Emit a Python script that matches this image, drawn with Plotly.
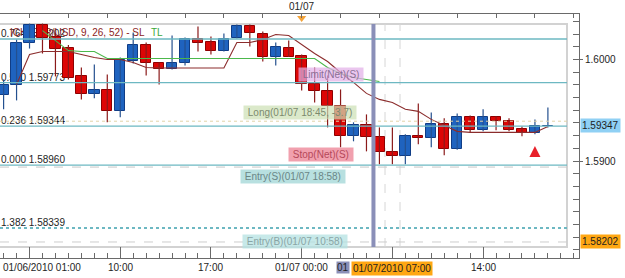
import plotly.graph_objects as go

# ---------------- data ----------------
candle_idx = list(range(43))
opens = [1.59646, 1.59744, 1.60167, 1.60344, 1.60226, 1.60113, 1.59833, 1.59656, 1.59695, 1.59489,
         1.59990, 1.60147, 1.59961, 1.59902, 1.59961, 1.60206, 1.60177, 1.60088, 1.60216, 1.60334,
         1.60256, 1.60020, 1.60118, 1.60034, 1.59754, 1.59685, 1.59538, 1.59243, 1.59351, 1.59233,
         1.59086, 1.59046, 1.59243, 1.59223, 1.59361, 1.59115, 1.59430, 1.59302, 1.59430, 1.59390,
         1.59312, 1.59272, 1.59341]
highs = [1.59803, 1.60197, 1.60354, 1.60354, 1.60265, 1.60143, 1.59921, 1.59951, 1.59853, 1.60020,
         1.60265, 1.60167, 1.59971, 1.60236, 1.60216, 1.60324, 1.60226, 1.60256, 1.60344, 1.60344,
         1.60275, 1.60167, 1.60187, 1.60049, 1.59921, 1.59843, 1.59705, 1.59381, 1.59459, 1.59331,
         1.59331, 1.59263, 1.59567, 1.59479, 1.59420, 1.59469, 1.59449, 1.59509, 1.59440, 1.59420,
         1.59341, 1.59410, 1.59528]
lows = [1.59509, 1.59597, 1.60108, 1.60059, 1.59833, 1.59803, 1.59607, 1.59617, 1.59381, 1.59430,
        1.59961, 1.59843, 1.59754, 1.59902, 1.59941, 1.60079, 1.60049, 1.60079, 1.60206, 1.60128,
        1.59980, 1.59941, 1.60024, 1.59695, 1.59577, 1.59331, 1.59135, 1.59194, 1.59095, 1.58968,
        1.58968, 1.58968, 1.59164, 1.59135, 1.59056, 1.59110, 1.59282, 1.59292, 1.59302, 1.59292,
        1.59243, 1.59263, 1.59331]
closes = [1.59744, 1.60167, 1.60344, 1.60216, 1.60108, 1.59813, 1.59656, 1.59695, 1.59489, 1.60000,
          1.60147, 1.59961, 1.59902, 1.59961, 1.60206, 1.60167, 1.60079, 1.60206, 1.60334, 1.60265,
          1.60020, 1.60123, 1.60029, 1.59754, 1.59685, 1.59538, 1.59243, 1.59351, 1.59233, 1.59086,
          1.59046, 1.59243, 1.59223, 1.59361, 1.59115, 1.59430, 1.59302, 1.59430, 1.59390, 1.59302,
          1.59272, 1.59341, 1.59347]

sl_idx = list(range(1, 43))
sl_vals = [1.59754, 1.60049, 1.60079, 1.60079, 1.60079, 1.60049, 1.60020, 1.60000, 1.60000, 1.59971, 1.59921,
           1.59916, 1.59916, 1.59916, 1.59916, 1.59916, 1.59916,
           1.60167, 1.60167, 1.60197, 1.60246, 1.60236, 1.60147, 1.60059, 1.59980, 1.59872, 1.59774,
           1.59666, 1.59607, 1.59577, 1.59509, 1.59489, 1.59410, 1.59351, 1.59292,
           1.59282, 1.59282, 1.59282, 1.59282, 1.59282, 1.59282, 1.59341]
tl_idx = list(range(3, 30))
tl_vals = [1.60285, 1.60187, 1.60088, 1.60079, 1.60079] + [1.60010] * 17 + \
          [1.59921, 1.59862, 1.59823, 1.59803, 1.59784]

fib_ratios = ["0.764", "0.500", "0.236", "0.000", "1.382"]
fib_prices = [1.60202, 1.59773, 1.59344, 1.58960, 1.58339]

x_tick_idx = [2, 9, 16, 23, 30, 37]
x_tick_text = ["01/06/2010 01:00", "10:00", "17:00", "01/07 00:00", "07:00", "14:00"]
top_tick_idx = list(range(2, 45, 3))
y_tick_vals = [1.5900, 1.6000]
y_tick_text = ["1.5900", "1.6000"]

last_price = 1.59347
line_price = 1.58202
position_price = 1.59392
entry_line_price = 1.58940
cursor_idx = 28.54
cursor_time_idx = 30
cursor_time_text = "01/07/2010 07:00"
dashed_idx = [29.43, 30.59]
day_marker_idx = 23
arrow_idx, arrow_price = 41, 1.59148

orders = [  # text, x (candle index), price, background, text colour
    (" Limit(Net)(S) ", 22.72, 1.59857, "rgba(226,176,232,0.72)", "#8a6f95"),
    (" Long(01/07 18:45, -3.7) ", 18.47, 1.59473, "rgba(205,225,182,0.72)", "#7b8a6e"),
    (" Stop(Net)(S) ", 21.94, 1.59064, "rgba(240,150,165,0.9)", "#b5485a"),
    (" Entry(S)(01/07 18:58) ", 18.24, 1.58847, "rgba(166,216,216,0.8)", "#6a8686"),
    (" Entry(B)(01/07 10:58) ", 18.39, 1.58207, "rgba(180,226,226,0.75)", "#8aa5a5"),
]

# ---------------- geometry helpers ----------------
PW, PT, PB = 579, 14, 258          # plot right edge, top, bottom in px
def xp(px): return px / PW
def yp(py): return (PB - py) / (PB - PT)

XR = [-0.278, 44.40]
YR = [1.580443, 1.604483]
FONT = "Liberation Sans, Arial, sans-serif"

BLUE, BLUE_EDGE, BLUE_WICK = "#1f63bf", "#103d86", "#24508f"
RED, RED_EDGE, RED_WICK = "#dd0606", "#8f0000", "#8b1a1a"

up = [i for i in candle_idx if closes[i] >= opens[i]]
dn = [i for i in candle_idx if closes[i] < opens[i]]

fig = go.Figure()

def wick_trace(ids, color):
    xs, ys = [], []
    for i in ids:
        xs += [i, i, None]
        ys += [lows[i], highs[i], None]
    return go.Scatter(x=xs, y=ys, mode="lines", line=dict(color=color, width=1.2),
                      hoverinfo="skip", showlegend=False)

def body_trace(ids, fill, edge):
    return go.Bar(x=ids, y=[max(abs(closes[i] - opens[i]), 0.00001) for i in ids],
                  base=[min(opens[i], closes[i]) for i in ids], width=0.8,
                  marker=dict(color=fill, line=dict(color=edge, width=1)),
                  hoverinfo="skip", showlegend=False)

fig.add_trace(body_trace(up, BLUE, BLUE_EDGE))
fig.add_trace(body_trace(dn, RED, RED_EDGE))
fig.add_trace(wick_trace(up, BLUE_WICK))
fig.add_trace(wick_trace(dn, RED_WICK))

fig.add_trace(go.Scatter(x=sl_idx, y=sl_vals, mode="lines", line=dict(color="#8b2c2c", width=1.1),
                         hoverinfo="skip", showlegend=False))
fig.add_trace(go.Scatter(x=tl_idx, y=tl_vals, mode="lines", line=dict(color="#4cb84c", width=1.1),
                         hoverinfo="skip", showlegend=False))
fig.add_trace(go.Scatter(x=[arrow_idx], y=[arrow_price], mode="markers",
                         marker=dict(symbol="arrow-up", size=11, color="#e8202a"),
                         hoverinfo="skip", showlegend=False))
fig.add_trace(go.Scatter(x=[day_marker_idx], y=[1.604089], mode="markers", xaxis="x2",
                         marker=dict(symbol="triangle-down", size=8, color="#f3a33a"),
                         cliponaxis=False, hoverinfo="skip", showlegend=False))

shapes = []
# inner frame
shapes.append(dict(type="rect", xref="paper", yref="paper", x0=-0.01, x1=xp(567),
                   y0=yp(247), y1=yp(24), line=dict(color="#d2d2d2", width=2), layer="below"))
# dashed verticals
for d in dashed_idx:
    shapes.append(dict(type="line", xref="x", yref="paper", x0=d, x1=d, y0=yp(247), y1=yp(24),
                       line=dict(color="#d6d6d6", width=1, dash="dash"), layer="below"))
# horizontal order / price levels
shapes.append(dict(type="line", xref="paper", yref="y", x0=0, x1=xp(567), y0=position_price, y1=position_price,
                   line=dict(color="#e2d3a8", width=1, dash="dot")))
shapes.append(dict(type="line", xref="paper", yref="y", x0=0, x1=xp(567), y0=entry_line_price, y1=entry_line_price,
                   line=dict(color="#c8c8c8", width=1, dash="dash"), layer="below"))
shapes.append(dict(type="line", xref="paper", yref="y", x0=0, x1=xp(567), y0=line_price, y1=line_price,
                   line=dict(color="#cdcdcd", width=1, dash="dash"), layer="below"))
# fibonacci levels (lines above, labels below the candles)
for r, p in zip(fib_ratios, fib_prices):
    dash = "dot" if r == "1.382" else "solid"
    w = 2 if r == "1.382" else 1.3
    shapes.append(dict(type="line", xref="paper", yref="y", x0=0, x1=xp(567), y0=p, y1=p,
                       line=dict(color="#6db8c2", width=w, dash=dash)))
    shapes.append(dict(type="line", xref="paper", yref="y", x0=xp(1), x1=xp(200), y0=p, y1=p,
                       line=dict(color="rgba(0,0,0,0)", width=0), layer="below",
                       label=dict(text=f"{r} {p:.5f}", textposition="start", xanchor="left",
                                  yanchor="bottom", padding=1,
                                  font=dict(family=FONT, size=10, color="#1e1e1e"))))
# indicator legend (behind candles)
shapes.append(dict(type="rect", xref="paper", yref="paper", x0=xp(7), x1=xp(145), y0=yp(38), y1=yp(24),
                   line=dict(width=0), fillcolor="rgba(0,0,0,0)", layer="below",
                   label=dict(text="ICH(EUR/USD, 9, 26, 52) - SL", textposition="middle left", padding=0,
                              font=dict(family=FONT, size=10, color="#8b2323"))))
shapes.append(dict(type="rect", xref="paper", yref="paper", x0=xp(148), x1=xp(165), y0=yp(38), y1=yp(24),
                   line=dict(width=0), fillcolor="rgba(0,0,0,0)", layer="below",
                   label=dict(text="TL", textposition="middle left", padding=0,
                              font=dict(family=FONT, size=10, color="#3aa83a"))))
# time cursor
shapes.append(dict(type="line", xref="x", yref="paper", x0=cursor_idx, x1=cursor_idx, y0=yp(247), y1=yp(24),
                   line=dict(color="#8a8fb8", width=4)))

ann = []
for t, x, p, bg, fc in orders:
    ann.append(dict(text=t, x=x, y=p, xref="x", yref="y", xanchor="left", yanchor="middle",
                    showarrow=False, bgcolor=bg, borderpad=1,
                    font=dict(family=FONT, size=10, color=fc)))
# bottom time labels (the one under the cursor label is hidden by it)
for i, (k, t) in enumerate(zip(x_tick_idx, x_tick_text)):
    if k == cursor_time_idx:
        continue
    if i == 0:
        ann.append(dict(text=t, x=0, xref="paper", xanchor="left", xshift=1, y=0, yref="paper",
                        yanchor="top", yshift=-2, showarrow=False,
                        font=dict(family=FONT, size=10, color="#1e1e1e")))
    else:
        ann.append(dict(text=t, x=k, xref="x", xanchor="center", y=0, yref="paper",
                        yanchor="top", yshift=-2, showarrow=False,
                        font=dict(family=FONT, size=10, color="#1e1e1e")))
# cursor labels at bottom
ann.append(dict(text="01", x=xp(350), xref="paper", xanchor="right", y=0, yref="paper", yanchor="top",
                yshift=-3, showarrow=False, bgcolor="#8a8fb8", borderpad=0,
                font=dict(family=FONT, size=10, color="#1e1e1e")))
ann.append(dict(text=cursor_time_text, x=cursor_time_idx, xref="x", xanchor="center", y=0, yref="paper",
                yanchor="top", yshift=-3, showarrow=False, bgcolor="#ffa713", borderpad=1,
                font=dict(family=FONT, size=10, color="#1e1e1e")))
# top day label
ann.append(dict(text="01/07", x=day_marker_idx, xref="x", y=1, yref="paper", yanchor="bottom", yshift=0,
                showarrow=False, font=dict(family=FONT, size=10, color="#1e1e1e")))
# right price boxes
ann.append(dict(text=f"{last_price:.5f}", x=1, xref="paper", xanchor="left", xshift=1, y=last_price, yref="y",
                yanchor="middle", showarrow=False, bgcolor="#8fd0f4", borderpad=1,
                font=dict(family=FONT, size=10, color="#1e1e1e")))
ann.append(dict(text=f"{line_price:.5f}", x=1, xref="paper", xanchor="left", xshift=1, y=line_price, yref="y",
                yanchor="middle", showarrow=False, bgcolor="#ffa713", borderpad=1,
                font=dict(family=FONT, size=10, color="#1e1e1e")))

fig.update_layout(
    width=625, height=278,
    margin=dict(l=0, r=625 - PW, t=PT, b=278 - PB),
    paper_bgcolor="white", plot_bgcolor="white",
    barmode="overlay", bargap=0, hovermode=False,
    font=dict(family=FONT, size=10, color="#1e1e1e"),
    showlegend=False,
    xaxis=dict(range=XR, showgrid=False, zeroline=False, showline=True, linecolor="#6a6a6a", linewidth=1,
               ticks="inside", ticklen=11, tickcolor="#6a6a6a", tickvals=x_tick_idx,
               showticklabels=False, fixedrange=True,
               minor=dict(ticks="inside", ticklen=5, tickcolor="#6a6a6a", tickmode="linear",
                          tick0=0, dtick=1, showgrid=False)),
    xaxis2=dict(range=XR, overlaying="x", side="top", anchor="y", showgrid=False, zeroline=False,
                showline=True, linecolor="#6a6a6a", ticks="inside", ticklen=4, tickcolor="#6a6a6a",
                tickvals=top_tick_idx, showticklabels=False, fixedrange=True),
    yaxis=dict(range=YR, side="right", showgrid=False, zeroline=False, showline=True, linecolor="#6a6a6a",
               ticks="outside", ticklen=3, tickcolor="#6a6a6a", tickvals=y_tick_vals, ticktext=y_tick_text,
               tickfont=dict(family=FONT, size=10, color="#1e1e1e"), fixedrange=True,
               minor=dict(ticks="inside", ticklen=6, tickcolor="#6a6a6a", tickmode="linear",
                          tick0=1.58, dtick=0.00125, showgrid=False)),
    shapes=shapes, annotations=ann,
)

fig.write_html("out.html")
